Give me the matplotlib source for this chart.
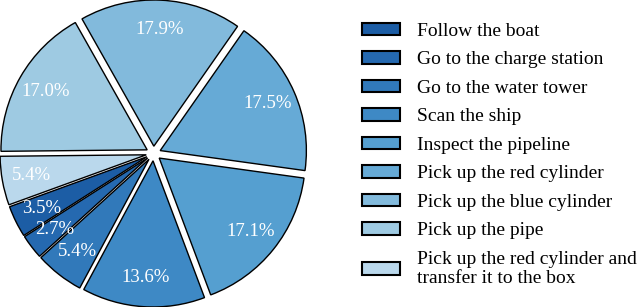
import matplotlib.pyplot as plt
import numpy as np

plt.rcParams['font.family'] = ['Liberation Serif', 'DejaVu Serif']

# task names and share of each task (%)
tasks = ['Follow the boat', 'Go to the charge station', 'Go to the water tower',
         'Scan the ship', 'Inspect the pipeline', 'Pick up the red cylinder',
         'Pick up the blue cylinder', 'Pick up the pipe',
         'Pick up the red cylinder and\ntransfer it to the box']
shares = [3.5, 2.7, 5.4, 13.6, 17.1, 17.5, 17.9, 17.0, 5.4]
colors = ['#1c5da5', '#2569b0', '#3179ba', '#3e89c5', '#559fd0',
          '#66aad6', '#82badc', '#9ecae2', '#bad8ec']

total = sum(shares)

fig = plt.figure(figsize=(6.4, 3.07), dpi=100)
ax = fig.add_axes([0, 0, 307 / 640, 1])

wedges, texts, autotexts = ax.pie(
    shares, colors=colors, startangle=200, counterclock=True,
    explode=[0.05] * len(shares), radius=1.0, pctdistance=0.8,
    autopct=lambda p: '{:.1f}%'.format(p * total / 100),
    wedgeprops=dict(edgecolor='black', linewidth=1.0),
    textprops=dict(color='white', fontsize=13.5))
ax.set_xlim(-1.05, 1.05)
ax.set_ylim(-1.05, 1.05)
ax.set_aspect('equal')

fig.legend(wedges, tasks, loc='upper left', bbox_to_anchor=(348 / 640, 1 - 9 / 307),
           frameon=False, fontsize=14, handlelength=1.95, handleheight=0.62,
           handletextpad=0.88, labelspacing=0.585, borderpad=0.2)
for h in fig.legends[0].legend_handles:
    h.set_linewidth(1.5)

plt.savefig('out.png', dpi=100)
